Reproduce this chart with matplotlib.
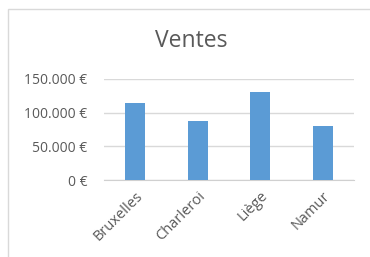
import matplotlib.pyplot as plt
from matplotlib.patches import Rectangle
from matplotlib.ticker import FuncFormatter

villes = ["Bruxelles", "Charleroi", "Liège", "Namur"]
ventes = [115000, 88000, 130000, 80000]
yticks = [0, 50000, 100000, 150000]

W, H = 370, 257
grey = "#595959"
plt.rcParams['font.family'] = ['Open Sans', 'DejaVu Sans']

fig = plt.figure(figsize=(W / 100, H / 100), dpi=100)

# chart frame
fig.patches.append(Rectangle((8 / W, -0.1), 1.2, 1 - 9 / H + 0.1, transform=fig.transFigure,
                             fill=False, edgecolor="#d9d9d9", linewidth=1))

ax = fig.add_axes([104 / W, 1 - 180 / H, 250 / W, 101 / H])
ax.bar(range(len(villes)), ventes, width=0.32, color="#5b9bd5", zorder=3)
ax.set_xlim(-0.5, len(villes) - 0.5)
ax.set_ylim(0, 150000)
ax.set_yticks(yticks)
ax.yaxis.set_major_formatter(FuncFormatter(lambda v, p: f"{int(v):,} €".replace(",", ".")))
ax.set_xticks(range(len(villes)))
ax.set_xticklabels(villes, rotation=45, ha="right", rotation_mode="anchor")
ax.grid(axis="y", color="#d9d9d9", linewidth=1)
for s in ["top", "right", "left"]:
    ax.spines[s].set_visible(False)
ax.spines["bottom"].set_color("#d0d0d0")
ax.tick_params(length=0, colors=grey, labelsize=10)
ax.tick_params(axis="x", labelsize=10.5, pad=6)
ax.tick_params(axis="y", pad=12)

fig.text(191 / W, 1 - 41 / H, "Ventes", ha="center", va="center", fontsize=16.5, color=grey)

fig.savefig("out.png", dpi=100)
